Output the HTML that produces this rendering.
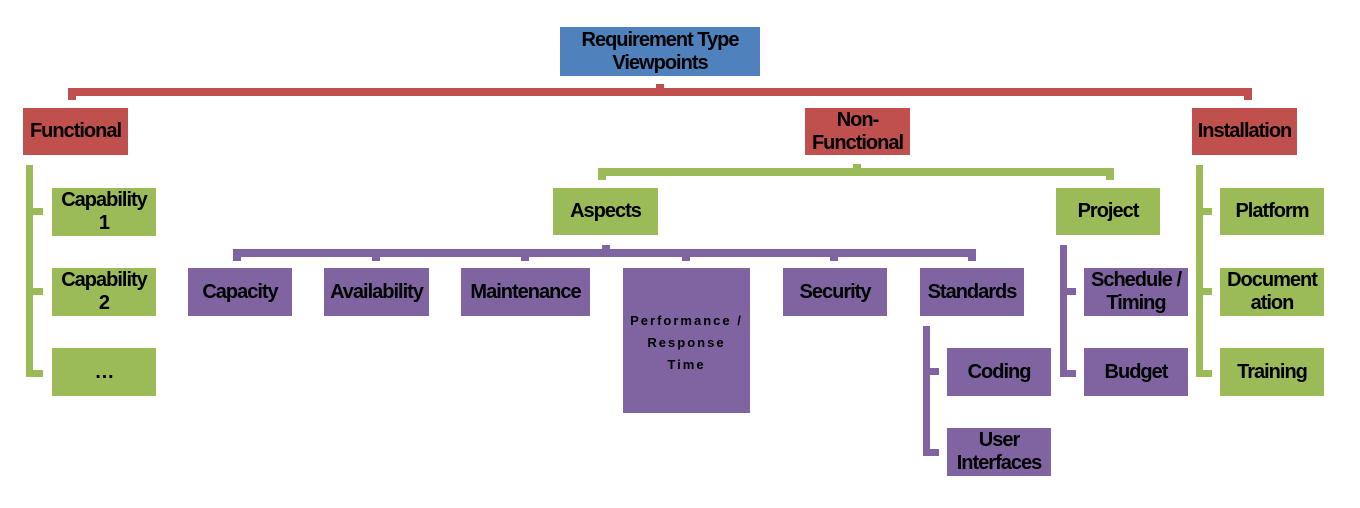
<!DOCTYPE html>
<html><head><style>
body{margin:0;width:1360px;height:508px;background:#fff;position:relative;overflow:hidden;font-family:"Liberation Sans",sans-serif}
.b{position:absolute;display:flex;align-items:center;justify-content:center;text-align:center;font-weight:bold;font-size:20px;line-height:23px;letter-spacing:-1px;color:#000;box-sizing:border-box;white-space:nowrap}
.r{background:#c0504d}.g{background:#9bbb59}.p{background:#8064a2}.bl{background:#4f81bd}
.l{position:absolute}
</style></head><body>
<div class="l r" style="left:68px;top:88px;width:1184px;height:8px;border-radius:4px 4px 0 0"></div>
<div class="l r" style="left:68px;top:88px;width:8px;height:12px"></div>
<div class="l r" style="left:1244px;top:88px;width:8px;height:12px"></div>
<div class="l r" style="left:656px;top:84px;width:8px;height:6px"></div>
<div class="l g" style="left:598px;top:168px;width:516px;height:8px;border-radius:4px 4px 0 0"></div>
<div class="l g" style="left:598px;top:168px;width:8px;height:12px"></div>
<div class="l g" style="left:1106px;top:168px;width:8px;height:12px"></div>
<div class="l g" style="left:853px;top:164px;width:8px;height:6px"></div>
<div class="l p" style="left:233px;top:249px;width:743px;height:8px;border-radius:4px 4px 0 0"></div>
<div class="l p" style="left:233px;top:249px;width:8px;height:12px"></div>
<div class="l p" style="left:372px;top:249px;width:8px;height:12px"></div>
<div class="l p" style="left:521px;top:249px;width:8px;height:12px"></div>
<div class="l p" style="left:682px;top:249px;width:8px;height:12px"></div>
<div class="l p" style="left:830px;top:249px;width:8px;height:12px"></div>
<div class="l p" style="left:968px;top:249px;width:8px;height:12px"></div>
<div class="l p" style="left:602px;top:245px;width:8px;height:6px"></div>
<div class="l g" style="left:26px;top:165px;width:7px;height:212px"></div>
<div class="l g" style="left:26px;top:208px;width:17px;height:7px"></div>
<div class="l g" style="left:26px;top:288px;width:17px;height:7px"></div>
<div class="l g" style="left:26px;top:370px;width:17px;height:7px"></div>
<div class="l g" style="left:1196px;top:165px;width:7px;height:212px"></div>
<div class="l g" style="left:1196px;top:208px;width:16px;height:7px"></div>
<div class="l g" style="left:1196px;top:288px;width:16px;height:7px"></div>
<div class="l g" style="left:1196px;top:370px;width:16px;height:7px"></div>
<div class="l p" style="left:1060px;top:245px;width:7px;height:132px"></div>
<div class="l p" style="left:1060px;top:288px;width:16px;height:7px"></div>
<div class="l p" style="left:1060px;top:370px;width:16px;height:7px"></div>
<div class="l p" style="left:923px;top:326px;width:7px;height:130px"></div>
<div class="l p" style="left:923px;top:368px;width:16px;height:7px"></div>
<div class="l p" style="left:923px;top:449px;width:16px;height:7px"></div>

<div class="b bl" style="left:560px;top:27px;width:200px;height:49px">Requirement Type<br>Viewpoints</div>
<div class="b r" style="left:23px;top:108px;width:105px;height:47px">Functional</div>
<div class="b r" style="left:805px;top:108px;width:105px;height:47px">Non-<br>Functional</div>
<div class="b r" style="left:1192px;top:108px;width:105px;height:47px">Installation</div>

<div class="b g" style="left:52px;top:188px;width:104px;height:48px">Capability<br>1</div>
<div class="b g" style="left:52px;top:268px;width:104px;height:48px">Capability<br>2</div>
<div class="b g" style="left:52px;top:348px;width:104px;height:48px">…</div>

<div class="b g" style="left:553px;top:188px;width:105px;height:47px">Aspects</div>
<div class="b g" style="left:1056px;top:188px;width:104px;height:47px">Project</div>

<div class="b p" style="left:188px;top:268px;width:104px;height:48px">Capacity</div>
<div class="b p" style="left:324px;top:268px;width:105px;height:48px">Availability</div>
<div class="b p" style="left:461px;top:268px;width:129px;height:48px">Maintenance</div>
<div class="b p" style="left:623px;top:268px;width:127px;height:145px;font-size:13px;letter-spacing:2px;line-height:22px;align-items:flex-start;padding-top:42px">Performance /<br>Response<br>Time</div>
<div class="b p" style="left:783px;top:268px;width:104px;height:48px">Security</div>
<div class="b p" style="left:920px;top:268px;width:104px;height:48px">Standards</div>

<div class="b p" style="left:947px;top:348px;width:104px;height:48px">Coding</div>
<div class="b p" style="left:947px;top:428px;width:104px;height:48px">User<br>Interfaces</div>

<div class="b p" style="left:1084px;top:268px;width:104px;height:48px">Schedule /<br>Timing</div>
<div class="b p" style="left:1084px;top:348px;width:104px;height:48px">Budget</div>

<div class="b g" style="left:1220px;top:188px;width:104px;height:47px">Platform</div>
<div class="b g" style="left:1220px;top:268px;width:104px;height:48px">Document<br>ation</div>
<div class="b g" style="left:1220px;top:348px;width:104px;height:48px">Training</div>
</body></html>
